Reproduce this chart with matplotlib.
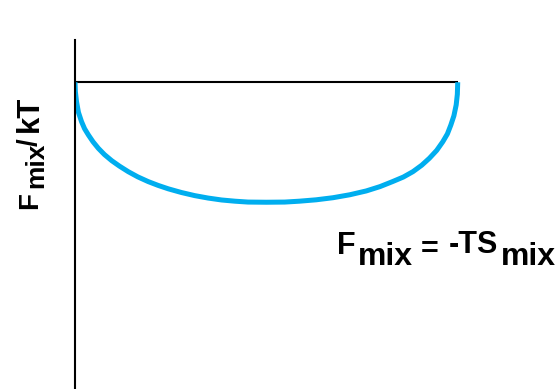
import matplotlib.pyplot as plt

plt.rcParams['font.family'] = ['Liberation Sans', 'DejaVu Sans']

# composition (volume fraction) and free energy of mixing per site
phi = [0.0, 0.001, 0.004, 0.009, 0.017, 0.025, 0.035, 0.047, 0.061, 0.077, 0.096, 0.116,
       0.139, 0.164, 0.191, 0.217, 0.244, 0.278, 0.313, 0.348, 0.383, 0.418, 0.452, 0.5,
       0.548, 0.586, 0.63, 0.674, 0.718, 0.761, 0.797, 0.83, 0.858, 0.883, 0.906, 0.926,
       0.945, 0.961, 0.973, 0.982, 0.99, 0.996, 0.999, 1.0]
f_mix = [0.0, -0.055, -0.112, -0.173, -0.226, -0.267, -0.303, -0.342, -0.380, -0.416, -0.451, -0.482,
         -0.514, -0.544, -0.571, -0.593, -0.613, -0.634, -0.652, -0.666, -0.677, -0.684, -0.689, -0.690,
         -0.689, -0.684, -0.676, -0.664, -0.647, -0.625, -0.600, -0.571, -0.545, -0.514, -0.477, -0.437,
         -0.392, -0.342, -0.297, -0.246, -0.193, -0.130, -0.069, 0.0]

W, H = 558, 389
fig = plt.figure(figsize=(W / 100, H / 100), dpi=100)
ax = fig.add_axes([75 / W, 0, (W - 75) / W, (H - 40) / H])

ax.plot([0, 1], [0, 0], color='black', lw=1.5, solid_capstyle='butt')
ax.plot(phi, f_mix, color='#00AEEF', lw=3.6, solid_capstyle='butt', solid_joinstyle='round')

ax.set_xlim(0, 1.262)
ax.set_ylim(-1.764, 0.243)
for s in ['top', 'right', 'bottom']:
    ax.spines[s].set_visible(False)
ax.spines['left'].set_linewidth(1.5)
ax.set_xticks([])
ax.set_yticks([])


def put(text, x, y, size, rot=0):
    # x, y in pixels from the top-left corner, anchored at the baseline start
    fig.text(x / W, 1 - y / H, text, fontsize=size, fontweight='bold', rotation=rot,
             rotation_mode='anchor', ha='left', va='baseline')


# y label: F_mix / kT, read bottom to top
put('F', 37, 209, 20, 90)
put('mix', 43.5, 188, 19, 90)
put('/', 37, 146, 20, 90)
put('kT', 37.5, 132, 22.5, 90)

# F_mix = -TS_mix
put('F', 337, 254, 22)
put('mix', 358, 265, 23)
put('=', 421, 258, 22)
put('-TS', 449, 253, 22)
put('mix', 501, 265, 23)

fig.savefig('out.png', dpi=100)
